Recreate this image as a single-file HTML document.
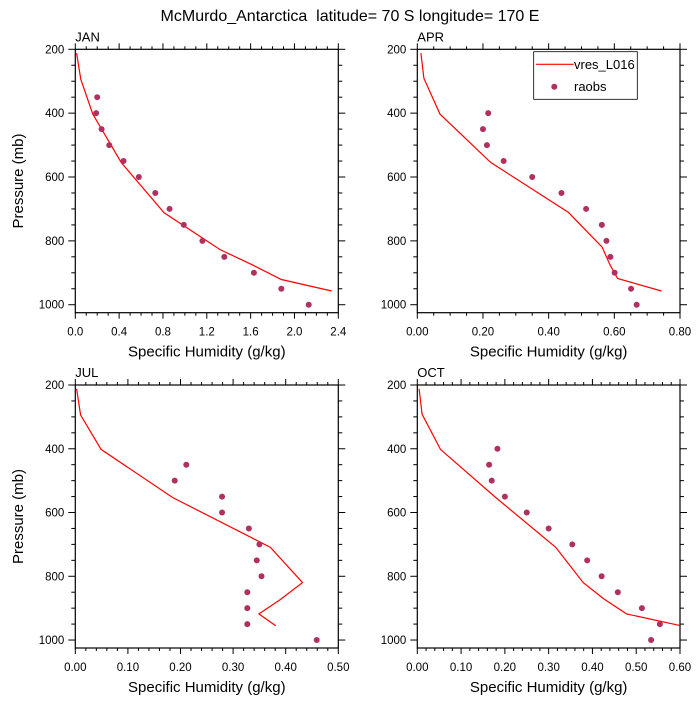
<!DOCTYPE html>
<html><head><meta charset="utf-8"><style>
body{margin:0;background:#fff;}
svg text{font-family:"Liberation Sans",sans-serif;fill:#000;}
</style></head><body>
<svg id="chart" width="700" height="700" viewBox="0 0 700 700" xmlns="http://www.w3.org/2000/svg">
<text x="350" y="21" text-anchor="middle" font-size="16" xml:space="preserve">McMurdo_Antarctica  latitude= 70 S longitude= 170 E</text>
</svg>
<script>
const janModelP=[212,294,403,555,712,827,876,921,957];
const janModelQ=[0.012,0.05,0.16,0.42,0.81,1.32,1.62,1.88,2.34];
const janObsP=[350,400,450,500,550,600,650,700,750,800,850,900,950,1000];
const janObsQ=[0.20,0.19,0.24,0.31,0.44,0.58,0.73,0.86,0.99,1.16,1.36,1.63,1.88,2.13];
const aprModelP=[212,291,403,554,711,820,876,918,957];
const aprModelQ=[0.011,0.02,0.069,0.223,0.46,0.563,0.587,0.61,0.744];
const aprObsP=[400,450,500,550,600,650,700,750,800,850,900,950,1000];
const aprObsQ=[0.216,0.2,0.212,0.263,0.35,0.439,0.514,0.562,0.576,0.588,0.601,0.651,0.668];
const julModelP=[212,294,402,553,709,820,874,918,955];
const julModelQ=[0.0025,0.01,0.049,0.185,0.371,0.432,0.389,0.349,0.381];
const julObsP=[450,500,550,600,650,700,750,800,850,900,950,1000];
const julObsQ=[0.211,0.189,0.279,0.279,0.33,0.35,0.345,0.354,0.327,0.327,0.327,0.459];
const octModelP=[212,292,402,553,709,820,870,918,954];
const octModelQ=[0.004,0.011,0.053,0.179,0.316,0.379,0.425,0.478,0.599];
const octObsP=[400,450,500,550,600,650,700,750,800,850,900,950,1000];
const octObsQ=[0.183,0.164,0.17,0.2,0.25,0.3,0.354,0.388,0.421,0.458,0.513,0.554,0.534];
const pTicks=[200,400,600,800,1000];
const janXTicks=["0.0","0.4","0.8","1.2","1.6","2.0","2.4"];
const aprXTicks=["0.00","0.20","0.40","0.60","0.80"];
const julXTicks=["0.00","0.10","0.20","0.30","0.40","0.50"];
const octXTicks=["0.00","0.10","0.20","0.30","0.40","0.50","0.60"];

const NS="http://www.w3.org/2000/svg";
const svg=document.getElementById('chart');
function mk(tag,attrs,parent){const e=document.createElementNS(NS,tag);for(const k in attrs)e.setAttribute(k,attrs[k]);(parent||svg).appendChild(e);return e;}

function panel(name,L,T,R,B,xmax,xticks,minorStep,mP,mQ,oP,oQ,showY){
  const g=mk('g',{});
  
  
  const pmin=200,pmax=1025;
  const xs=q=>L+(q/xmax)*(R-L);
  const ys=p=>T+(p-pmin)/(pmax-pmin)*(B-T);
  const nMinor=Math.round(xmax/minorStep);
  const majorEvery=Math.round((xmax/(xticks.length-1))/minorStep);
  for(let i=0;i<=nMinor;i++){
    const x=xs(i*minorStep);const len=(i%majorEvery===0)?6:3;
    const t1=mk('line',{x1:x,y1:B,x2:x,y2:B+len,stroke:'#000','stroke-width':1},g);
    
    
    const t2=mk('line',{x1:x,y1:T,x2:x,y2:T-len,stroke:'#000','stroke-width':1},g);
    
    
  }
  for(let p=200;p<=1000;p+=50){
    const y=ys(p);const len=(p%200===0)?7:4;
    const t1=mk('line',{x1:L,y1:y,x2:L-len,y2:y,stroke:'#000','stroke-width':1},g);
    
    
    const t2=mk('line',{x1:R,y1:y,x2:R+len,y2:y,stroke:'#000','stroke-width':1},g);
    
    
  }
  const fr=mk('rect',{x:L,y:T,width:R-L,height:B-T,fill:'none',stroke:'#000','stroke-width':1.2},g);
  
  
  xticks.forEach((lab,i)=>{
    const v=i*xmax/(xticks.length-1);
    const t=mk('text',{x:xs(v),y:B+23,'text-anchor':'middle','font-size':11.5},g);
    t.textContent=lab;
    
    
  });
  pTicks.forEach(p=>{
    const t=mk('text',{x:L-11,y:ys(p)+4,'text-anchor':'end','font-size':11.5},g);
    t.textContent=p;
    
    
  });
  const xl=mk('text',{x:(L+R)/2,y:B+44,'text-anchor':'middle','font-size':15},g);
  xl.textContent='Specific Humidity (g/kg)';
  
  
  if(showY){
    const cy=(T+B)/2;
    const yl=mk('text',{x:23,y:cy,'text-anchor':'middle','font-size':15,transform:`rotate(-90 23 ${cy})`},g);
    yl.textContent='Pressure (mb)';
    
    
  }
  const ti=mk('text',{x:L,y:T-8,'font-size':13},g);
  ti.textContent=name.toUpperCase();
  
  
  const pts=mP.map((p,i)=>xs(mQ[i]).toFixed(1)+','+ys(p).toFixed(1)).join(' ');
  const ln=mk('polyline',{points:pts,fill:'none',stroke:'#ff0000','stroke-width':1.2},g);
  
  
  oP.forEach((p,i)=>{
    const c=mk('circle',{cx:xs(oQ[i]),cy:ys(p),r:3,fill:'#b03060'},g);
    
    
  });
}
panel('jan',75.3,49.3,338.3,312.7,2.4,janXTicks,0.1,janModelP,janModelQ,janObsP,janObsQ,true);
panel('apr',417.3,49.3,680,312.7,0.8,aprXTicks,0.05,aprModelP,aprModelQ,aprObsP,aprObsQ,false);
panel('jul',75.3,385,338.3,648,0.5,julXTicks,0.02,julModelP,julModelQ,julObsP,julObsQ,true);
panel('oct',417.3,385,680,648,0.6,octXTicks,0.02,octModelP,octModelQ,octObsP,octObsQ,false);

const lg=mk('g',{});


mk('rect',{x:533.7,y:51.7,width:103.6,height:47.6,fill:'#fff',stroke:'#000','stroke-width':0.8},lg);
const ll=mk('line',{x1:536,y1:64.3,x2:573.7,y2:64.3,stroke:'#ff0000','stroke-width':1.2},lg);


const lt=mk('text',{x:574,y:69,'font-size':13},lg);
lt.textContent='vres_L016';


const lc=mk('circle',{cx:554.3,cy:86.7,r:3,fill:'#b03060'},lg);


const lt2=mk('text',{x:574,y:91,'font-size':13},lg);
lt2.textContent='raobs';


</script>
</body></html>
